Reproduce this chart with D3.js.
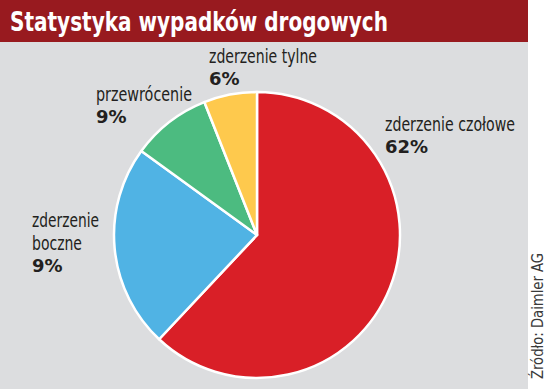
<!DOCTYPE html>
<html>
<head>
<meta charset="utf-8">
<script src="https://cdn.jsdelivr.net/npm/d3@7"></script>
<style>
  html, body { margin: 0; padding: 0; background: #fff; }
  svg { display: block; }
  .cond { font-family: "Liberation Sans Narrow", "DejaVu Sans Condensed", sans-serif; }
  .lbl { font-size: 19px; fill: #231f20; }
  .pct { font-family: "DejaVu Sans", sans-serif; font-weight: bold; font-size: 18px; fill: #231f20; }
</style>
</head>
<body>
<svg id="chart"></svg>
<script>
// Slice shares; label texts kept exactly as printed
const categories = ["zderzenie czołowe", "zderzenie boczne", "przewrócenie", "zderzenie tylne"];
const values = [62, 23, 9, 6];
const pctLabels = ["62%", "9%", "9%", "6%"];
const colors = ["#d91f27", "#50b3e4", "#4cbb80", "#fec94d"];

const width = 550;
const height = 389;
const panelWidth = 528;
const titleHeight = 42;

const svg = d3.select("#chart")
    .attr("width", width)
    .attr("height", height);

// squeeze a text to a given width (the original uses a condensed face)
function fitWidth(sel, w) {
    sel.attr("textLength", w).attr("lengthAdjust", "spacingAndGlyphs");
}

svg.append("rect")
    .attr("width", panelWidth)
    .attr("height", height)
    .attr("fill", "#dcdddf");

svg.append("rect")
    .attr("width", panelWidth)
    .attr("height", titleHeight)
    .attr("fill", "#981a1f");

svg.append("text")
    .attr("class", "cond")
    .attr("x", 10)
    .attr("y", 31)
    .style("font-weight", "bold")
    .style("font-size", "27px")
    .attr("fill", "#fff")
    .text("Statystyka wypadków drogowych")
    .call(fitWidth, 378);

// pie
const cx = 257, cy = 235, radius = 143;

const pie = d3.pie().sort(null).value(d => d.value);
const arc = d3.arc().innerRadius(0).outerRadius(radius);

const data = categories.map((c, i) => ({ name: c, value: values[i], pct: pctLabels[i], color: colors[i] }));

const g = svg.append("g").attr("transform", `translate(${cx},${cy})`);

g.selectAll("path")
    .data(pie(data))
    .enter()
    .append("path")
    .attr("d", arc)
    .attr("fill", d => d.data.color)
    .attr("stroke", "#fff")
    .attr("stroke-width", 2.5)
    .attr("stroke-linejoin", "round");

// labels: name lines + percentage underneath
const labelPos = [
    { x: 385, y: 131, lines: [["zderzenie czołowe", 130]] },
    { x: 32, y: 227, lines: [["zderzenie", 67], ["boczne", 50]] },
    { x: 96, y: 101, lines: [["przewrócenie", 96]] },
    { x: 209, y: 63, lines: [["zderzenie tylne", 108]] }
];

data.forEach((d, i) => {
    const p = labelPos[i];
    p.lines.forEach(([line, w], j) => {
        svg.append("text")
            .attr("class", "cond lbl")
            .attr("x", p.x)
            .attr("y", p.y + j * 23)
            .text(line)
            .call(fitWidth, w);
    });
    svg.append("text")
        .attr("class", "pct")
        .attr("x", p.x)
        .attr("y", p.y + (p.lines.length - 1) * 23 + 22)
        .text(d.pct);
});

// source, rotated
svg.append("text")
    .attr("class", "cond")
    .attr("transform", "translate(543,379) rotate(-90)")
    .style("font-size", "15px")
    .attr("fill", "#3a3a3a")
    .text("Źródło: Daimler AG")
    .call(fitWidth, 126);
</script>
</body>
</html>
